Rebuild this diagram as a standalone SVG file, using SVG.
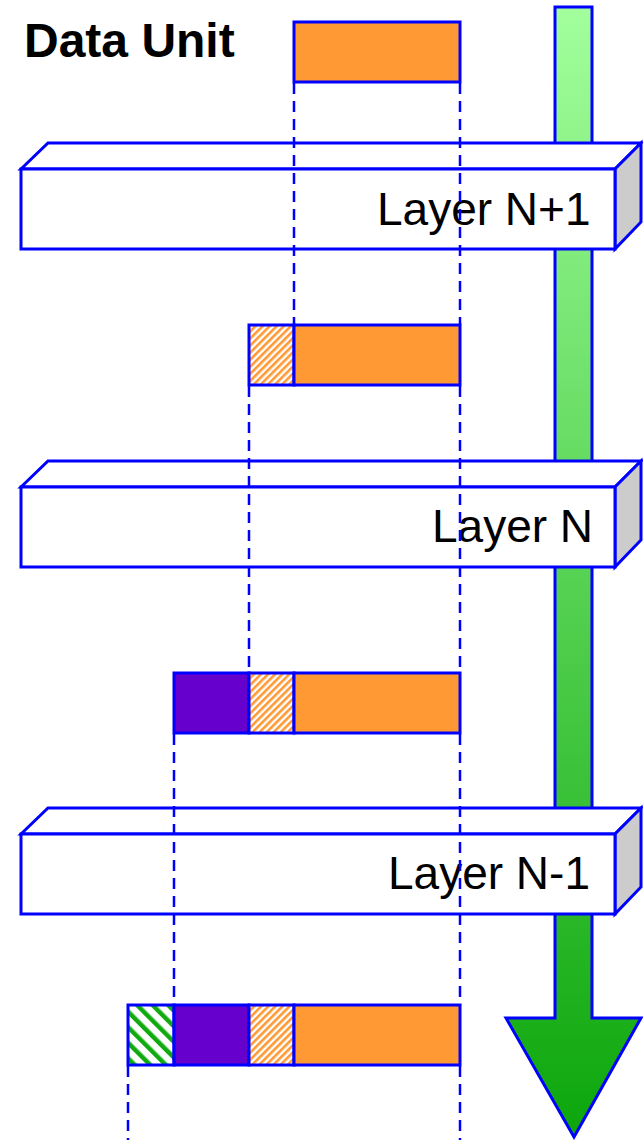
<svg xmlns="http://www.w3.org/2000/svg" width="643" height="1140" viewBox="0 0 643 1140">
  <defs>
    <linearGradient id="flowGrad" x1="0" y1="0" x2="0" y2="1">
      <stop offset="0" stop-color="#a2ff9c"/>
      <stop offset="1" stop-color="#0ca60c"/>
    </linearGradient>
    <pattern id="hatchOrange" patternUnits="userSpaceOnUse" width="5" height="5" patternTransform="rotate(45)">
      <rect width="5" height="5" fill="#ffffff"/>
      <rect width="2.6" height="5" fill="#ff9933"/>
    </pattern>
    <pattern id="hatchGreen" patternUnits="userSpaceOnUse" width="11" height="11" patternTransform="rotate(-45)">
      <rect width="11" height="11" fill="#ffffff"/>
      <rect width="4.5" height="11" fill="#11aa11"/>
    </pattern>
    <style>
      .edge { stroke: #0000ff; stroke-width: 3; }
      .box { fill: #ffffff; stroke: #0000ff; stroke-width: 3; stroke-linejoin: miter; }
      .side { fill: #cccccc; stroke: #0000ff; stroke-width: 3; }
      .payload { fill: #ff9933; stroke: #0000ff; stroke-width: 3; }
      .hdrN1 { fill: url(#hatchOrange); stroke: #0000ff; stroke-width: 3; }
      .hdrN { fill: #6600cc; stroke: #0000ff; stroke-width: 3; }
      .hdrNm1 { fill: url(#hatchGreen); stroke: #0000ff; stroke-width: 3; }
      .guide { stroke: #0000ff; stroke-width: 2.5; stroke-dasharray: 11 7; fill: none; }
      .label { font-family: "Liberation Sans", Arial, sans-serif; font-size: 46px; fill: #000000; }
      .title { font-family: "Liberation Sans", Arial, sans-serif; font-size: 48px; font-weight: bold; fill: #000000; }
    </style>
  </defs>

  <!-- downward flow arrow -->
  <g id="flow-arrow">
    <polygon points="555,7 592,7 592,1018 641,1018 574,1137 506,1018 555,1018" fill="url(#flowGrad)" class="edge" stroke-linejoin="miter"/>
  </g>

  <!-- protocol layers -->
  <g id="layer-n-plus-1">
    <polygon class="box" points="21,169 48,143 641,143 615,169"/>
    <polygon class="side" points="615,169 641,143 641,222 615,249"/>
    <rect class="box" x="21" y="169" width="594" height="80"/>
    <text class="label" x="377" y="225">Layer N+1</text>
  </g>
  <g id="layer-n">
    <polygon class="box" points="21,487 48,461 641,461 615,487"/>
    <polygon class="side" points="615,487 641,461 641,540 615,567"/>
    <rect class="box" x="21" y="487" width="594" height="80"/>
    <text class="label" x="432" y="542">Layer N</text>
  </g>
  <g id="layer-n-minus-1">
    <polygon class="box" points="21,834 48,808 641,808 615,834"/>
    <polygon class="side" points="615,834 641,808 641,887 615,914"/>
    <rect class="box" x="21" y="834" width="594" height="80"/>
    <text class="label" x="388" y="889">Layer N-1</text>
  </g>

  <!-- data unit at each stage -->
  <g id="data-unit">
    <text class="title" x="24" y="57">Data Unit</text>
    <rect class="payload" x="294" y="22" width="166" height="60"/>
  </g>
  <g id="pdu-n-plus-1">
    <rect class="hdrN1" x="249" y="325" width="45" height="60"/>
    <rect class="payload" x="294" y="325" width="166" height="60"/>
  </g>
  <g id="pdu-n">
    <rect class="hdrN" x="174" y="673" width="75" height="60"/>
    <rect class="hdrN1" x="249" y="673" width="45" height="60"/>
    <rect class="payload" x="294" y="673" width="166" height="60"/>
  </g>
  <g id="pdu-n-minus-1">
    <rect class="hdrNm1" x="128" y="1005" width="46" height="60"/>
    <rect class="hdrN" x="174" y="1005" width="75" height="60"/>
    <rect class="hdrN1" x="249" y="1005" width="45" height="60"/>
    <rect class="payload" x="294" y="1005" width="166" height="60"/>
  </g>

  <!-- dashed guide lines between stages -->
  <g id="connectors">
    <line class="guide" x1="294" y1="83" x2="294" y2="325"/>
    <line class="guide" x1="460" y1="83" x2="460" y2="325"/>
    <line class="guide" x1="249" y1="386" x2="249" y2="673"/>
    <line class="guide" x1="460" y1="386" x2="460" y2="673"/>
    <line class="guide" x1="174" y1="734" x2="174" y2="1005"/>
    <line class="guide" x1="460" y1="734" x2="460" y2="1005"/>
    <line class="guide" x1="128" y1="1066" x2="128" y2="1140"/>
    <line class="guide" x1="460" y1="1066" x2="460" y2="1140"/>
  </g>
</svg>
